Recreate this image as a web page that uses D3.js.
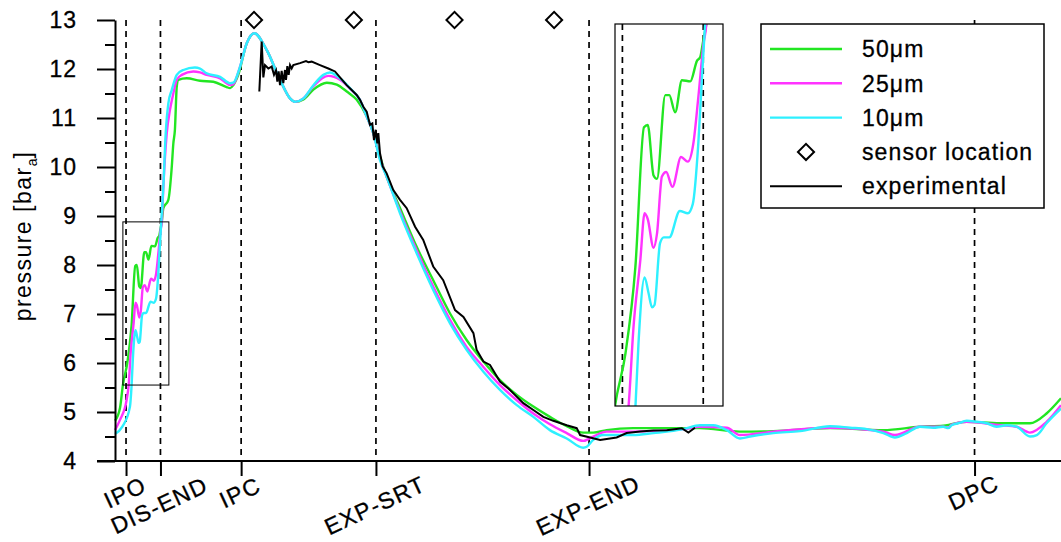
<!DOCTYPE html>
<html>
<head>
<meta charset="utf-8">
<script src="https://cdn.jsdelivr.net/npm/d3@7"></script>
<style>
body { margin: 0; background: #fff; }
svg { display: block; }
text { font-family: "Liberation Sans", Arial, sans-serif; }
</style>
</head>
<body>
<div id="chart"></div>
<script>
// crank angle [deg] vs pressure [bar_a]
var events = ["IPO", "DIS-END", "IPC", "EXP-SRT", "EXP-END", "DPC"];
var eventAngles = [4.2, 17.3, 48.0, 99.3, 180.4, 327.1];
var sensorAngles = [52.9, 90.9, 129.2, 167.1];
var yMajor = [4, 5, 6, 7, 8, 9, 10, 11, 12, 13];
var yMinor = [4.5, 5.5, 6.5, 7.5, 8.5, 9.5, 10.5, 11.5, 12.5];
var insetX = [3.0, 20.5];
var insetY = [5.55, 8.88];

var sim50 = [[0,4.82],[1.9,5.08],[3.0,5.55],[4.7,6.01],[6.3,6.76],[7.7,7.98],[8.3,8.0],[9.25,7.56],[9.8,7.53],
  [11.15,8.26],[11.8,8.26],[12.75,8.11],[13.85,8.39],[15.2,8.38],[16.3,8.56],[16.8,8.59],[17.25,8.72],[17.8,8.88],
  [18.4,9.16],[20.3,9.33],[21.6,10.0],[22.2,10.48],[22.8,10.76],[23.5,11.64],[24.1,11.78],[27.3,11.81],[32.35,11.76],
  [37.4,11.74],[42.5,11.63],[43.8,11.61],[45.0,11.67],[46.9,11.88],[50.1,12.52],[53.0,12.73],[57.7,12.39],[62.8,11.78],
  [66.6,11.40],[68.5,11.33],[71.7,11.38],[75.5,11.58],[80.6,11.72],[84.4,11.68],[88.2,11.54],[92.0,11.37],[95.8,11.03],
  [98.3,10.69],[100.85,10.21],[103.4,9.80],[108.5,9.16],[114.8,8.37],[121.1,7.69],[127.5,7.01],[133.8,6.47],[140.2,6.03],
  [146.5,5.65],[152.9,5.35],[159.2,5.11],[165.5,4.90],[171.9,4.71],[178.2,4.58],[182.0,4.58],[187.1,4.63],[197.2,4.67],
  [216.3,4.67],[222.6,4.67],[237.8,4.60],[250.5,4.61],[272.1,4.67],[292.4,4.63],[306.3,4.70],[315.2,4.72],[318.4,4.75],
  [324.1,4.80],[336.8,4.77],[348.2,4.77],[354.5,4.97],[360,5.28]];

var sim25 = [[0,4.63],[1.9,4.84],[4.4,5.24],[5.2,5.55],[6.0,6.24],[7.1,6.82],[7.8,7.23],[8.3,7.18],[9.25,6.93],[9.8,7.05],
  [10.6,7.55],[11.3,7.59],[12.3,7.46],[13.7,7.72],[14.8,7.68],[15.7,7.84],[16.5,8.24],[17.35,8.71],[17.8,8.88],[18.4,9.6],
  [19.7,10.69],[20.9,11.16],[22.2,11.5],[23.5,11.78],[25.4,11.88],[29.8,11.95],[32.35,11.93],[34.9,11.88],[40.0,11.81],
  [42.5,11.71],[43.8,11.67],[45.0,11.69],[47.6,12.05],[50.1,12.52],[53.0,12.73],[57.7,12.39],[62.8,11.78],[66.6,11.40],
  [68.5,11.33],[71.7,11.40],[75.5,11.65],[81.2,11.86],[85.6,11.78],[89.4,11.60],[93.2,11.37],[95.8,11.03],[98.3,10.69],
  [100.85,10.18],[103.4,9.80],[108.5,9.09],[114.8,8.30],[121.1,7.56],[127.5,6.88],[133.8,6.33],[140.2,5.92],[146.5,5.55],
  [152.9,5.24],[159.2,4.97],[165.5,4.75],[171.9,4.57],[178.2,4.41],[182.0,4.50],[187.1,4.60],[197.2,4.60],[216.3,4.65],
  [222.6,4.70],[232.8,4.68],[237.8,4.53],[250.5,4.60],[272.1,4.68],[292.4,4.60],[296.8,4.53],[306.3,4.70],[315.2,4.70],
  [317.1,4.68],[318.4,4.74],[324.1,4.80],[336.8,4.73],[343.1,4.70],[348.2,4.58],[354.5,4.80],[360,5.14]];

var sim10 = [[0,4.55],[2.8,4.70],[5.7,5.11],[6.3,5.53],[6.8,6.09],[7.8,6.67],[8.45,6.53],[9.0,6.41],[9.4,6.43],[10.3,6.97],
  [10.9,7.02],[11.8,7.02],[13.5,7.25],[14.8,7.23],[15.6,7.31],[16.5,7.84],[17.1,8.42],[17.6,8.88],[18.4,9.6],[19.3,10.69],
  [20.3,11.30],[21.6,11.57],[23.5,11.88],[26.0,11.98],[30.4,12.03],[32.35,12.01],[34.9,11.91],[40.0,11.84],[43.8,11.71],
  [45.0,11.72],[47.6,12.05],[50.1,12.52],[53.0,12.73],[57.7,12.39],[62.8,11.78],[66.6,11.40],[68.5,11.33],[71.7,11.40],
  [75.5,11.67],[79.3,11.88],[81.8,11.93],[85.6,11.81],[89.4,11.61],[93.2,11.37],[95.8,11.03],[98.3,10.69],[100.85,10.14],
  [103.4,9.80],[108.5,9.05],[114.8,8.24],[121.1,7.49],[127.5,6.81],[133.8,6.27],[140.2,5.82],[146.5,5.45],[152.9,5.14],
  [159.2,4.90],[165.5,4.63],[171.9,4.46],[178.2,4.27],[179.5,4.29],[182.0,4.43],[185.8,4.53],[190.9,4.53],[197.2,4.53],
  [204.9,4.57],[216.3,4.65],[222.6,4.73],[227.7,4.73],[232.8,4.63],[237.8,4.46],[241.7,4.50],[250.5,4.57],[260.7,4.61],
  [272.1,4.71],[279.7,4.68],[286.1,4.65],[292.4,4.57],[296.8,4.48],[301.3,4.57],[306.3,4.70],[311.4,4.68],[315.2,4.70],
  [317.1,4.67],[318.4,4.73],[320.9,4.77],[324.1,4.82],[327.9,4.80],[331.7,4.77],[335.5,4.70],[339.3,4.73],[343.1,4.70],
  [348.2,4.50],[350.8,4.53],[354.5,4.77],[360,5.07]];

var measured = [[54.92,11.54],[55.82,12.56],[56.45,11.83],[57.08,12.08],[58.35,12.01],[59.62,12.05],[60.51,11.88],
  [61.27,11.97],[61.77,11.74],[62.28,11.95],[62.79,11.67],[63.42,11.96],[64.05,11.71],[64.69,11.98],[65.07,11.78],
  [65.58,12.06],[66.09,11.88],[66.6,12.08],[67.23,12.01],[67.86,12.08],[70.4,12.12],[72.69,12.16],[73.57,12.14],
  [74.84,12.15],[78.01,12.08],[81.18,12.01],[83.72,11.95],[86.27,11.79],[88.17,11.67],[90.07,11.57],[91.98,11.47],
  [93.23,11.37],[94.5,11.23],[95.78,11.13],[97.04,10.86],[97.92,10.89],[98.56,10.55],[99.21,10.76],[99.82,10.48],
  [100.2,10.69],[100.85,10.28],[101.87,10.01],[103.39,9.87],[105.91,9.53],[108.46,9.33],[111.0,9.16],[114.2,8.78],
  [117.3,8.51],[121.1,7.97],[124.9,7.69],[129.4,7.08],[132.6,6.94],[136.4,6.61],[137.6,6.27],[140.2,6.03],[142.7,5.96],
  [146.5,5.62],[149.7,5.48],[151.6,5.38],[155.4,5.18],[159.2,5.04],[163.0,4.90],[166.8,4.82],[171.9,4.73],[175.7,4.67],
  [177.0,4.53],[180.8,4.48],[184.6,4.43],[190.9,4.48],[194.7,4.57],[199.8,4.60],[204.9,4.62],[210.0,4.63],[215.7,4.67],
  [218.2,4.58],[220.7,4.68]];

var series = [
  {name: "50\u03bcm", color: "#22e622", data: sim50},
  {name: "25\u03bcm", color: "#ff33ff", data: sim25},
  {name: "10\u03bcm", color: "#2ef0ff", data: sim10}
];

var svg = d3.select("#chart").append("svg").attr("width", 1061).attr("height", 542);

var x = d3.scaleLinear().domain([0, 360]).range([115, 1061]);
var y = d3.scaleLinear().domain([4, 13]).range([461, 20]);

var simLine = d3.line().x(function(d) { return x(d[0]); }).y(function(d) { return y(d[1]); }).curve(d3.curveMonotoneX);
var expLine = d3.line().x(function(d) { return x(d[0]); }).y(function(d) { return y(d[1]); });

// event dashed lines
svg.selectAll(".ev").data(eventAngles).enter().append("line")
  .attr("x1", function(d) { return x(d); }).attr("x2", function(d) { return x(d); })
  .attr("y1", y(13)).attr("y2", y(4))
  .style("stroke", "#000").style("stroke-width", 1.7).style("stroke-dasharray", "6,5");

// simulated and measured curves
series.forEach(function(s) {
  svg.append("path").attr("d", simLine(s.data)).style("fill", "none")
    .style("stroke", s.color).style("stroke-width", 2.4);
});
svg.append("path").attr("d", expLine(measured)).style("fill", "none")
  .style("stroke", "#000").style("stroke-width", 2);

// y axis
var yAxis = svg.append("g").attr("transform", "translate(" + x(0) + ",0)")
  .call(d3.axisLeft(y).tickValues(yMajor).tickSize(18).tickSizeOuter(0).tickPadding(20).tickFormat(d3.format("d")));
svg.append("g").attr("transform", "translate(" + x(0) + ",0)")
  .call(d3.axisLeft(y).tickValues(yMinor).tickSize(10).tickSizeOuter(0).tickFormat(""))
  .select(".domain").remove();
svg.selectAll(".tick line").style("stroke-width", 2);
yAxis.select(".domain").style("stroke-width", 2);
yAxis.selectAll("text").style("font-size", "23px").style("font-family", "Liberation Sans, Arial, sans-serif")
  .style("letter-spacing", "1px").style("stroke", "#000").style("stroke-width", 0.3);

// x axis
var xAxis = svg.append("g").attr("transform", "translate(0," + y(4) + ")")
  .call(d3.axisBottom(x).tickValues(eventAngles).tickSize(15).tickFormat(""));
xAxis.select(".domain").remove();
xAxis.selectAll(".tick line").style("stroke-width", 2);
svg.append("line").attr("x1", x(0) - 18).attr("x2", x(360)).attr("y1", y(4)).attr("y2", y(4))
  .style("stroke", "#000").style("stroke-width", 2);

svg.selectAll(".evlab").data(events).enter().append("text")
  .attr("text-anchor", "middle").attr("dominant-baseline", "central")
  .attr("transform", function(d, i) {
    return "translate(" + (x(eventAngles[i]) - 1) + "," + (483 + 3.2 * d.length) + ") rotate(-25)";
  })
  .style("font-size", "23px").style("letter-spacing", "1.3px").style("stroke", "#000").style("stroke-width", 0.3)
  .text(function(d) { return d; });

// y label
var yl = svg.append("text").attr("transform", "translate(31,236) rotate(-90)")
  .attr("text-anchor", "middle").style("font-size", "23px").style("letter-spacing", "1.5px");
yl.append("tspan").text("pressure [bar");
yl.append("tspan").attr("dy", 6).style("font-size", "14px").style("letter-spacing", "0").text("a");
yl.append("tspan").attr("dy", -6).text("]");

// zoom window in main plot
svg.append("rect")
  .attr("x", x(insetX[0])).attr("y", y(insetY[1]))
  .attr("width", x(insetX[1]) - x(insetX[0])).attr("height", y(insetY[0]) - y(insetY[1]))
  .style("fill", "none").style("stroke", "#000").style("stroke-width", 1);

// inset
var xi = d3.scaleLinear().domain(insetX).range([615, 723]);
var yi = d3.scaleLinear().domain(insetY).range([406, 24]);
svg.append("clipPath").attr("id", "insetclip").append("rect")
  .attr("x", 615).attr("y", 24).attr("width", 108).attr("height", 382);
svg.append("rect").attr("x", 615).attr("y", 24).attr("width", 108).attr("height", 382).style("fill", "#fff");
var inset = svg.append("g").attr("clip-path", "url(#insetclip)");
inset.selectAll("line").data(eventAngles.filter(function(d) { return d > insetX[0] && d < insetX[1]; }))
  .enter().append("line")
  .attr("x1", function(d) { return xi(d); }).attr("x2", function(d) { return xi(d); })
  .attr("y1", 24).attr("y2", 406)
  .style("stroke", "#000").style("stroke-width", 1.7).style("stroke-dasharray", "6,5");
var insetLine = d3.line().x(function(d) { return xi(d[0]); }).y(function(d) { return yi(d[1]); }).curve(d3.curveMonotoneX);
series.forEach(function(s) {
  inset.append("path").attr("d", insetLine(s.data)).style("fill", "none")
    .style("stroke", s.color).style("stroke-width", 2.4);
});
svg.append("rect").attr("x", 615).attr("y", 24).attr("width", 108).attr("height", 382)
  .style("fill", "none").style("stroke", "#000").style("stroke-width", 1.2);

// sensor locations
var diamond = d3.symbol().type(d3.symbolSquare).size(130);
svg.selectAll(".sensor").data(sensorAngles).enter().append("path")
  .attr("d", diamond)
  .attr("transform", function(d) { return "translate(" + x(d) + "," + y(13) + ") rotate(45)"; })
  .style("fill", "#fff").style("stroke", "#000").style("stroke-width", 2);

// legend
var legend = svg.append("g");
legend.append("rect").attr("x", 761).attr("y", 24).attr("width", 283).attr("height", 184)
  .style("fill", "#fff").style("stroke", "#000").style("stroke-width", 1.5);
var legItems = series.map(function(s) { return {name: s.name, color: s.color, type: "line"}; });
legItems.push({name: "sensor location", color: "#000", type: "marker"});
legItems.push({name: "experimental", color: "#000", type: "line"});
legItems.forEach(function(it, i) {
  var ly = 49 + 34.3 * i;
  if (it.type == "line") {
    legend.append("line").attr("x1", 770).attr("x2", 842).attr("y1", ly).attr("y2", ly)
      .style("stroke", it.color).style("stroke-width", it.color == "#000" ? 2 : 2.4);
  } else {
    legend.append("path").attr("d", diamond)
      .attr("transform", "translate(806," + ly + ") rotate(45)")
      .style("fill", "#fff").style("stroke", "#000").style("stroke-width", 2);
  }
  legend.append("text").attr("x", 862).attr("y", ly).attr("dy", "0.36em")
    .style("font-size", "23px").style("letter-spacing", "1.1px").style("stroke", "#000").style("stroke-width", 0.3)
    .text(it.name);
});
</script>
</body>
</html>
